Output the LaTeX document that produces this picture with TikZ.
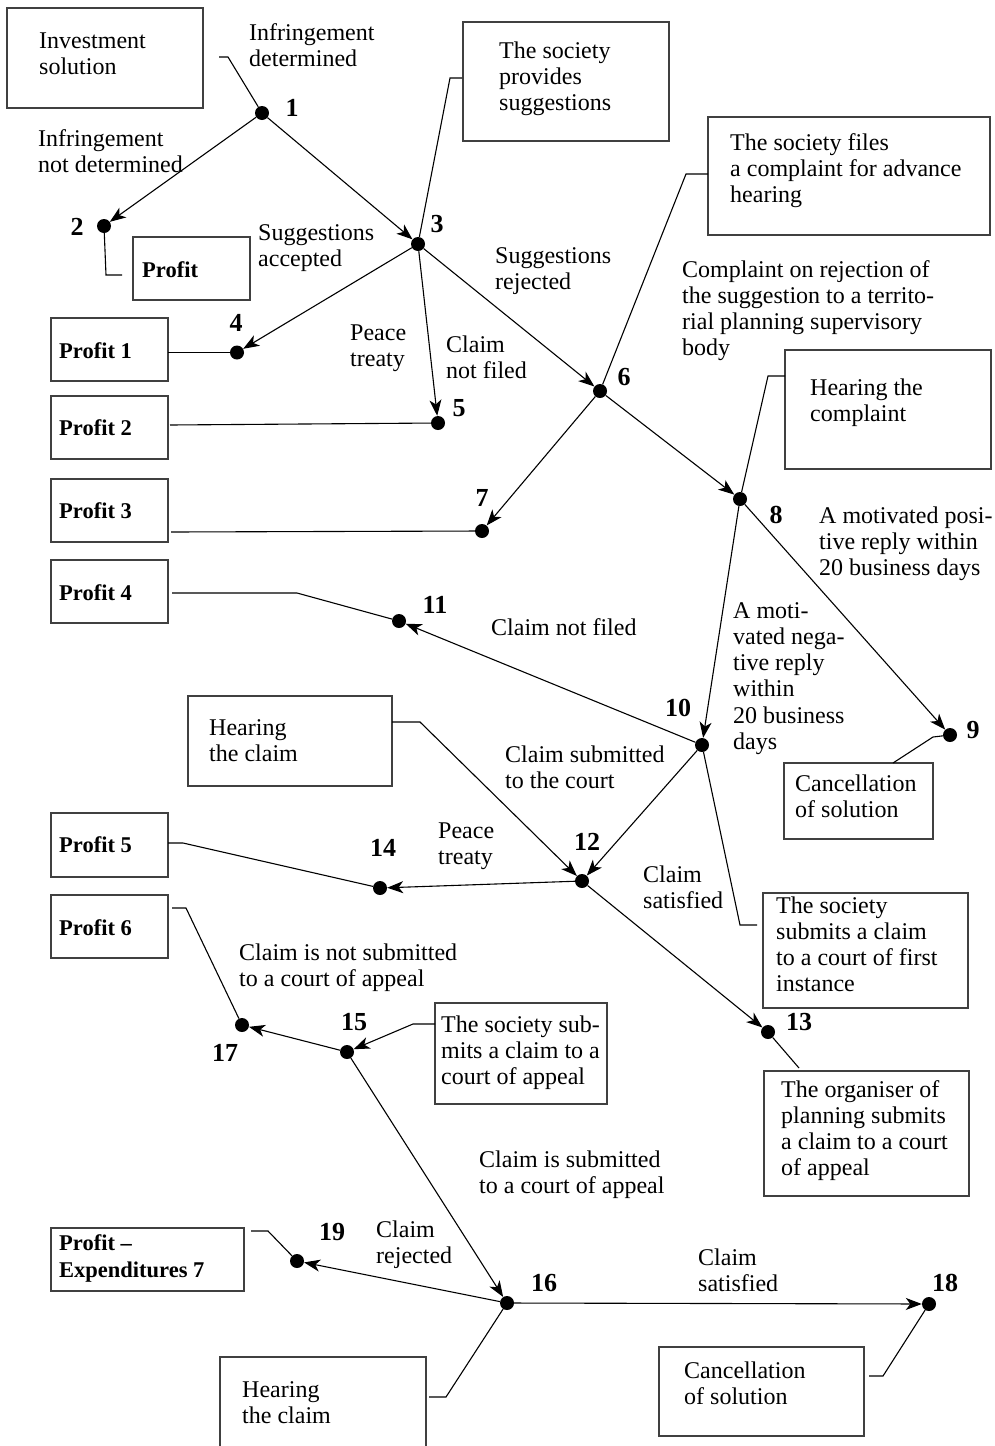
\documentclass[tikz,border=0pt]{standalone}
\usepackage{fontspec}
\setmainfont{Liberation Serif}
\usetikzlibrary{arrows.meta}
\tikzset{
  txt/.style={anchor=base west, inner sep=0pt, align=left, font=\fontsize{24}{26.3}\selectfont},
  btxt/.style={anchor=base west, inner sep=0pt, align=left, font=\fontsize{22.5}{27}\selectfont\bfseries},
  num/.style={inner sep=0pt, font=\fontsize{26}{27}\selectfont\bfseries},
  dot/.style={circle, fill=black, inner sep=0pt, minimum size=14pt},
  boxline/.style={draw=black!75, line width=1.2pt},
  arr/.style={line width=1.1pt, -{Stealth[length=16pt,width=12pt,inset=4.5pt]}},
  con/.style={line width=1.1pt},
}
\begin{document}
\begin{tikzpicture}[x=1pt,y=-1pt]
\useasboundingbox (0,0) rectangle (995,1446);
% ---------- boxes ----------
\draw[boxline] (7,8) rectangle (203,108);
\draw[boxline] (133,237) rectangle (250,300);
\draw[boxline] (463,22) rectangle (669,141);
\draw[boxline] (708,117) rectangle (990,235);
\draw[boxline] (785,350) rectangle (991,469);
\draw[boxline] (51,318) rectangle (168,381);
\draw[boxline] (51,396) rectangle (168,459);
\draw[boxline] (51,479) rectangle (168,542);
\draw[boxline] (51,560) rectangle (168,623);
\draw[boxline] (784,763) rectangle (933,839);
\draw[boxline] (188,696) rectangle (392,786);
\draw[boxline] (763,893) rectangle (968,1008);
\draw[boxline] (51,813) rectangle (168,877);
\draw[boxline] (51,895) rectangle (168,958);
\draw[boxline] (435,1003) rectangle (607,1104);
\draw[boxline] (764,1071) rectangle (969,1196);
\draw[boxline] (51,1228) rectangle (244,1291);
\draw[boxline] (220,1450) -- (220,1357) -- (426,1357) -- (426,1450);
\draw[boxline] (659,1347) rectangle (864,1436);
% ---------- texts (anchor = baseline of last line) ----------
\node[txt] (tInv) at (39,74.3) {Investment\\solution};
\node[txt] (tID) at (249,66.3) {Infringement\\determined};
\node[txt] (tIND) at (38,172.3) {Infringement\\not determined};
\node[btxt] (tP0) at (142,277) {Profit};
\node[txt] (tSP) at (499,110.6) {The society\\provides\\suggestions};
\node[txt] (tSF) at (730,202.6) {The society files\\a complaint for advance\\hearing};
\node[txt] (tSA) at (258,266.3) {Suggestions\\accepted};
\node[txt] (tSR) at (495,289.3) {Suggestions\\rejected};
\node[txt] (tCR) at (682,355.9) {Complaint on rejection of\\the suggestion to a territo-\\rial planning supervisory\\body};
\node[txt] (tHC) at (810,421.3) {Hearing the\\complaint};
\node[txt] (tPT1) at (350,366.3) {Peace\\treaty};
\node[txt] (tCNF1) at (446,378.3) {Claim\\not filed};
\node[btxt] (tP1) at (59,358) {Profit 1};
\node[btxt] (tP2) at (59,435) {Profit 2};
\node[btxt] (tP3) at (59,518) {Profit 3};
\node[btxt] (tP4) at (59,600) {Profit 4};
\node[txt] (tPos) at (819,575.6) {A motivated posi-\\tive reply within\\20 business days};
\node[txt] (tNeg) at (733,749.5) {A moti-\\vated nega-\\tive reply\\within\\20 business\\days};
\node[txt] (tCNF2) at (491,635) {Claim not filed};
\node[txt] (tHCl) at (209,761.3) {Hearing\\the claim};
\node[txt] (tCST) at (505,788.3) {Claim submitted\\to the court};
\node[txt] (tCan1) at (795,817.3) {Cancellation\\of solution};
\node[txt] (tPT2) at (438,864.3) {Peace\\treaty};
\node[txt] (tCS1) at (643,908.3) {Claim\\satisfied};
\node[txt] (tFirst) at (776,991.9) {The society\\submits a claim\\to a court of first\\instance};
\node[btxt] (tP5) at (59,852) {Profit 5};
\node[btxt] (tP6) at (59,935) {Profit 6};
\node[txt] (tNotApp) at (239,986.3) {Claim is not submitted\\to a court of appeal};
\node[txt] (tApp) at (441,1084.6) {The society sub-\\mits a claim to a\\court of appeal};
\node[txt] (tOrg) at (781,1175.9) {The organiser of\\planning submits\\a claim to a court\\of appeal};
\node[txt] (tIsApp) at (479,1193.3) {Claim is submitted\\to a court of appeal};
\node[btxt] (tP7) at (59,1277) {Profit --\\Expenditures 7};
\node[txt] (tRej) at (376,1263.3) {Claim\\rejected};
\node[txt] (tCS2) at (698,1291.3) {Claim\\satisfied};
\node[txt] (tHCl2) at (242,1423.3) {Hearing\\the claim};
\node[txt] (tCan2) at (684,1404.3) {Cancellation\\of solution};
% ---------- dots ----------
\node[dot] (n1) at (262,113) {};
\node[dot] (n2) at (104,226) {};
\node[dot] (n3) at (418,244) {};
\node[dot] (n4) at (237,352.5) {};
\node[dot] (n5) at (438,423) {};
\node[dot] (n6) at (600,391) {};
\node[dot] (n7) at (482,531) {};
\node[dot] (n8) at (740,499) {};
\node[dot] (n9) at (950,735) {};
\node[dot] (n10) at (702,745) {};
\node[dot] (n11) at (399,621) {};
\node[dot] (n12) at (582,881) {};
\node[dot] (n13) at (768,1032) {};
\node[dot] (n14) at (380,888) {};
\node[dot] (n15) at (347,1052) {};
\node[dot] (n16) at (507,1303) {};
\node[dot] (n17) at (242,1025) {};
\node[dot] (n18) at (929,1304) {};
\node[dot] (n19) at (297,1261) {};
% ---------- numbers ----------
\node[num] (l1) at (292,108) {1};
\node[num] (l2) at (77,227) {2};
\node[num] (l3) at (437,224) {3};
\node[num] (l4) at (236,323) {4};
\node[num] (l5) at (459,408) {5};
\node[num] (l6) at (624,377) {6};
\node[num] (l7) at (482,498) {7};
\node[num] (l8) at (776,515) {8};
\node[num] (l9) at (973,730) {9};
\node[num] (l10) at (678,708) {10};
\node[num] (l11) at (435,605) {11};
\node[num] (l12) at (587,842) {12};
\node[num] (l13) at (799,1022) {13};
\node[num] (l14) at (383,848) {14};
\node[num] (l15) at (354,1022) {15};
\node[num] (l16) at (544,1283) {16};
\node[num] (l17) at (225,1053) {17};
\node[num] (l18) at (945,1283) {18};
\node[num] (l19) at (332,1232) {19};
% ---------- arrows ----------
\draw[arr] (n1) -- (n2);
\draw[arr] (n1) -- (n3);
\draw[arr] (n3) -- (n4);
\draw[arr] (n3) -- (n5);
\draw[arr] (n3) -- (n6);
\draw[arr] (n6) -- (n7);
\draw[arr] (n6) -- (n8);
\draw[arr] (n8) -- (n9);
\draw[arr] (n8) -- (n10);
\draw[arr] (n10) -- (n11);
\draw[arr] (n10) -- (n12);
\draw[arr] (n12) -- (n13);
\draw[arr] (n12) -- (n14);
\draw[arr] (n15) -- (n17);
\draw[arr] (n15) -- (n16);
\draw[arr] (n16) -- (n19);
\draw[arr] (n16) -- (n18);
% ---------- box connectors ----------
\coordinate (cInv) at (219,57);   \coordinate (cInvB) at (228,57);
\draw[con] (cInv) -- (cInvB) -- (n1);
\coordinate (cP0) at (122,275);  \coordinate (cP0B) at (106,275);
\draw[con] (n2) -- (cP0B) -- (cP0);
\coordinate (cSP) at (462,78);   \coordinate (cSPB) at (450,78);
\draw[con] (cSP) -- (cSPB) -- (n3);
\coordinate (cSF) at (708,174);  \coordinate (cSFB) at (686,174);
\draw[con] (cSF) -- (cSFB) -- (n6);
\coordinate (cHC) at (785,376);  \coordinate (cHCB) at (768,376);
\draw[con] (cHC) -- (cHCB) -- (n8);
\coordinate (cP1) at (168,352.5);
\draw[con] (cP1) -- (n4);
\coordinate (cP2) at (170,425);
\draw[con] (cP2) -- (n5);
\coordinate (cP3) at (171,532);
\draw[con] (cP3) -- (n7);
\coordinate (cP4) at (172,593);  \coordinate (cP4B) at (297,593);
\draw[con] (cP4) -- (cP4B) -- (n11);
\coordinate (cCan1) at (893,763); \coordinate (cCan1B) at (933,737);
\draw[con] (cCan1) -- (cCan1B) -- (n9);
\coordinate (cFirst) at (757,925); \coordinate (cFirstB) at (740,925);
\draw[con] (n10) -- (cFirstB) -- (cFirst);
\coordinate (cOrg) at (799,1068);
\draw[con] (n13) -- (cOrg);
\coordinate (cP5) at (168,843);  \coordinate (cP5B) at (183,843);
\draw[con] (cP5) -- (cP5B) -- (n14);
\coordinate (cP6) at (172,908);  \coordinate (cP6B) at (186,908);
\draw[con] (cP6) -- (cP6B) -- (n17);
\coordinate (cP7) at (251,1231); \coordinate (cP7B) at (268,1231);
\draw[con] (cP7) -- (cP7B) -- (n19);
\coordinate (cH2) at (429,1397); \coordinate (cH2B) at (446,1397);
\draw[con] (cH2) -- (cH2B) -- (n16);
\coordinate (cCan2) at (869,1376); \coordinate (cCan2B) at (883,1376);
\draw[con] (cCan2) -- (cCan2B) -- (n18);
\coordinate (cHCl) at (392,722); \coordinate (cHClB) at (420,722);
\draw[arr] (cHCl) -- (cHClB) -- (n12);
\coordinate (cApp) at (435,1024); \coordinate (cAppB) at (413,1024);
\draw[arr] (cApp) -- (cAppB) -- (n15);
\end{tikzpicture}
\end{document}
